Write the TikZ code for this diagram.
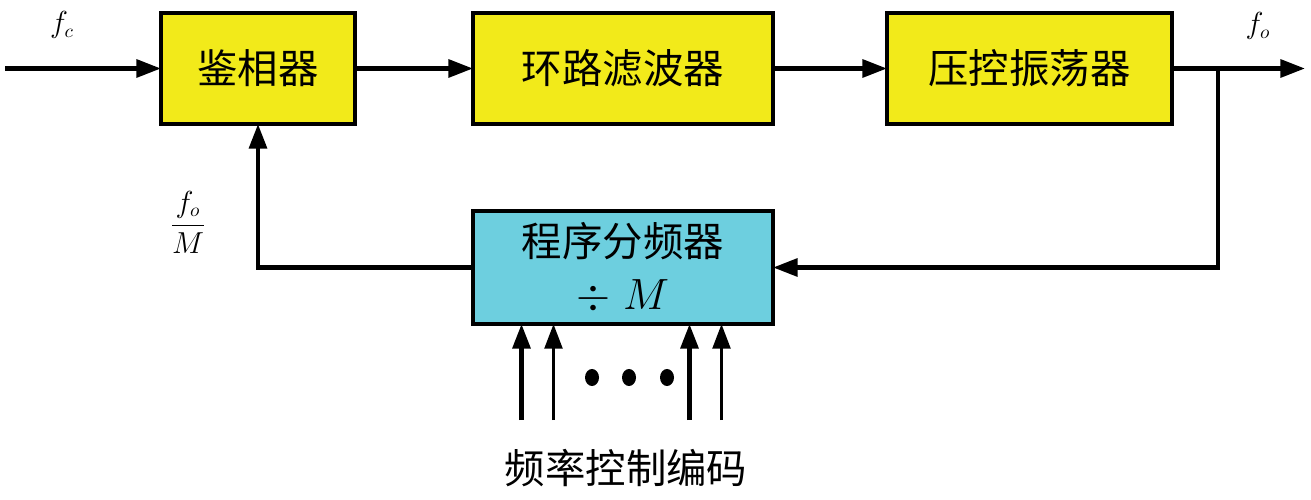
\documentclass[tikz,border=0pt]{standalone}
\usepackage{fontspec}
\newfontfamily\cjk{Noto Sans CJK SC}
\usepackage{amsmath}
\usepackage{xcolor}
\usetikzlibrary{positioning}
\usetikzlibrary{calc}
\usetikzlibrary{arrows.meta}
\usetikzlibrary{shapes.geometric}
\definecolor{boxyellow}{HTML}{F2EA1A}
\definecolor{boxcyan}{HTML}{6DCFDF}
\tikzset{
	-{Triangle[length=14pt,width=10pt]},
	every path/.style={line width=2.5pt},
	block/.style ={rectangle, draw, line width=2.5pt, fill=boxyellow, inner sep=0pt, outer sep=0pt,
		minimum height=2.22cm, font=\cjk\fontsize{23}{30}\selectfont},
	divblock/.style ={block, fill=boxcyan, minimum height=2.26cm, align=center},
	dot/.style = {ellipse, fill, inner sep=0pt, minimum width=0.28cm, minimum height=0.34cm, node contents={}},
	sig/.style = {font=\fontsize{16}{19}\selectfont},
	code/.style = {font=\cjk\fontsize{23}{28}\selectfont}
}
\begin{document}
\begin{tikzpicture}
	\useasboundingbox (0,0) rectangle (26.22,-10);

					\node (pd) [block, minimum width=3.88cm] at (5.16,-1.37) {鉴相器};
					\node (lf) [block, minimum width=6.0cm, right = 2.36cm of pd] {环路滤波器};
					\node (vco) [block, minimum width=5.7cm, right = 2.28cm of lf] {压控振荡器};
					\node (div) [divblock, minimum width=6.0cm, below = 1.74cm of lf] {程序分频器\\$\div\;M$};

					\coordinate (in) at (0.1,-1.37);
					\coordinate (out) at (26.1,-1.37);
					\coordinate (br) at ($(vco.east)+(0.92,0)$);

					\node (fc) [sig] at (1.24,-0.5) {$f_c$};
					\node (fo) [sig] at (25.16,-0.52) {$f_o$};
					\node (fom) [sig] at (3.76,-4.45) {$\dfrac{f_o}{M}$};

					\path (in) edge (pd.west);
					\path (pd) edge (lf);
					\path (lf) edge (vco);
					\draw (vco.east) -- (out);
					\draw (br) |- (div.east);
					\draw (div.west) -| (pd.south);

					% frequency control inputs
					\coordinate (c1) at ($(div.south)+(-2.03,-1.92)$);
					\coordinate (c2) at ($(div.south)+(-1.39,-1.92)$);
					\coordinate (c3) at ($(div.south)+(1.33,-1.92)$);
					\coordinate (c4) at ($(div.south)+(1.97,-1.92)$);
					\draw (c1) -- (c1 |- div.south);
					\draw[line width=2pt] (c2) -- (c2 |- div.south);
					\draw (c3) -- (c3 |- div.south);
					\draw[line width=2pt] (c4) -- (c4 |- div.south);

					\node (d1) at ($(div.south)+(-0.62,-1.07)$) [dot];
					\node (d2) at ($(div.south)+(0.12,-1.07)$) [dot];
					\node (d3) at ($(div.south)+(0.88,-1.07)$) [dot];

					\node (fcc) [code] at (12.52,-9.36) {频率控制编码};
				\end{tikzpicture}
\end{document}
